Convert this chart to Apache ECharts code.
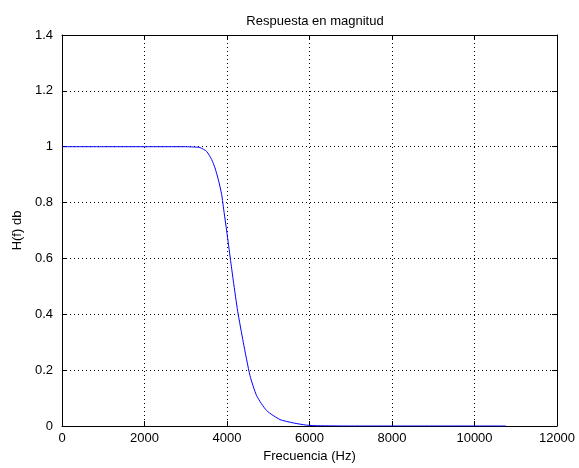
<!DOCTYPE html>
<html><head><meta charset="utf-8">
<script src="https://cdn.jsdelivr.net/npm/echarts@6/dist/echarts.min.js"></script>
<style>html,body{margin:0;padding:0;background:#fff}#c{width:579px;height:468px}</style>
</head><body><div id="c"></div>
<script>
const title = 'Respuesta en magnitud';
const xName = 'Frecuencia (Hz)';
const yName = 'H(f) db';
const freq = [0, 1000, 2000, 3000, 3175, 3345, 3507, 3628, 3709, 3790, 3871, 3911, 4000, 4080, 4153, 4260, 4396, 4558, 4720, 4962, 5285, 5608, 5931, 6200, 7000, 8000, 9000, 10000, 10760];
const mag  = [1, 1, 1, 1, 0.999, 0.997, 0.983, 0.954, 0.924, 0.882, 0.829, 0.785, 0.69, 0.60, 0.52, 0.41, 0.299, 0.180, 0.108, 0.055, 0.023, 0.011, 0.003, 0.001, 0, 0, 0, 0, 0];
const xMin = 0, xMax = 12000, xStep = 2000;
const yMin = 0, yMax = 1.4, yStep = 0.2;

const chart = echarts.init(document.getElementById('c'));
const font = 'Liberation Sans';
const fs = 13;
const axisCommon = {
  axisLine: {show: true, onZero: false, lineStyle: {color: '#000', width: 1}},
  axisTick: {show: true, inside: true, length: 5, lineStyle: {color: '#000'}},
};
chart.setOption({
  animation: false,
  backgroundColor: '#fff',
  title: {text: title, left: 310, top: 10, textAlign: 'center',
    textStyle: {fontFamily: font, fontSize: fs, fontWeight: 'normal', color: '#000'}},
  grid: {left: 62, right: 22, top: 35, bottom: 41, containLabel: false},
  xAxis: [
    Object.assign({type: 'value', min: xMin, max: xMax, interval: xStep, position: 'bottom',
      name: xName, nameLocation: 'middle', nameGap: 24,
      nameTextStyle: {fontFamily: font, fontSize: fs, color: '#000'},
      axisLabel: {fontFamily: font, fontSize: fs, color: '#000', margin: 6, formatter: v => String(v)},
      splitLine: {show: true, lineStyle: {color: '#000', type: [1, 3], width: 1}}}, axisCommon),
    Object.assign({type: 'value', min: xMin, max: xMax, interval: xStep, position: 'top',
      axisLabel: {show: false}, splitLine: {show: false}}, axisCommon)
  ],
  yAxis: [
    Object.assign({type: 'value', min: yMin, max: yMax, interval: yStep, position: 'left',
      name: yName, nameLocation: 'middle', nameGap: 37, nameRotate: 90,
      nameTextStyle: {fontFamily: font, fontSize: fs, color: '#000'},
      axisLabel: {fontFamily: font, fontSize: fs, color: '#000', margin: 9,
        formatter: v => String(Math.round(v * 10) / 10)},
      splitLine: {show: true, lineStyle: {color: '#000', type: [1, 3], width: 1}}}, axisCommon),
    Object.assign({type: 'value', min: yMin, max: yMax, interval: yStep, position: 'right',
      axisLabel: {show: false}, splitLine: {show: false}}, axisCommon)
  ],
  series: [{
    type: 'line', xAxisIndex: 0, yAxisIndex: 0,
    data: freq.map((f, i) => [f, mag[i]]),
    showSymbol: false, smooth: 0.2,
    lineStyle: {color: '#0000ff', width: 1}
  }]
});
</script></body></html>
